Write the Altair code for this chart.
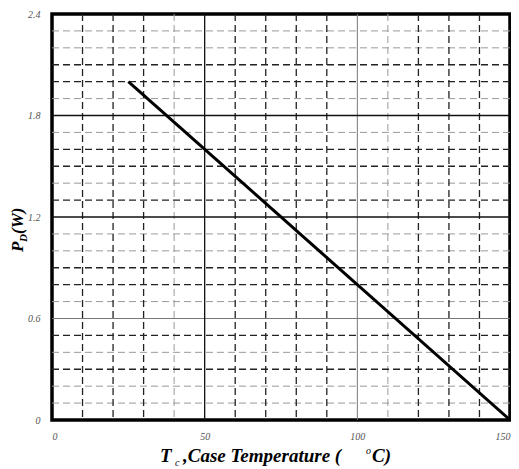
import altair as alt
import pandas as pd

# ---- data ----
temp = [25, 150]
power = [2.0, 0.0]
x_ticks = [0, 50, 100, 150]
y_ticks = [0, 0.6, 1.2, 1.8, 2.4]
x_grid_dark = [10, 20, 30, 60, 70, 80, 90, 120, 130, 140]
x_grid_light = [40, 110]
x_major_dark = [50]
x_major_light = [100]
y_grid_dark = [2.1, 2.0, 1.6, 1.5, 1.3, 0.9, 0.8, 0.5, 0.3]
y_grid_light = [2.3, 2.2, 1.9, 1.7, 1.4, 1.1, 1.0, 0.7, 0.4, 0.2, 0.1]
y_major_dark = [1.8, 1.2]
y_major_light = [0.6]

SERIF = "Liberation Serif"
W, H = 458, 406

xs = alt.Scale(domain=[0, 150], nice=False, zero=False)
ys = alt.Scale(domain=[0, 2.4], nice=False, zero=False)

axis_common = dict(
    grid=False, ticks=False, domain=False, title=None,
    labelFont=SERIF, labelFontStyle="italic", labelFontSize=10,
    labelColor="#555555",
)
x_axis = alt.Axis(values=x_ticks, labelPadding=11, format="d", **axis_common)
y_axis = alt.Axis(values=y_ticks, labelPadding=12, format="~r", **axis_common)

line_df = pd.DataFrame({"T": temp, "P": power})


def vrules(vals, color, width, dash=None):
    kw = dict(color=color, strokeWidth=width)
    if dash:
        kw["strokeDash"] = dash
    return alt.Chart(pd.DataFrame({"v": vals})).mark_rule(**kw).encode(
        x=alt.X("v:Q", scale=xs, axis=x_axis)
    )


def hrules(vals, color, width, dash=None):
    kw = dict(color=color, strokeWidth=width)
    if dash:
        kw["strokeDash"] = dash
    return alt.Chart(pd.DataFrame({"v": vals})).mark_rule(**kw).encode(
        y=alt.Y("v:Q", scale=ys, axis=y_axis)
    )


DASH = [7, 4]
grid = [
    vrules(x_grid_light, "#9a9a9a", 1, DASH),
    hrules(y_grid_light, "#9a9a9a", 1, DASH),
    vrules(x_grid_dark, "#222222", 1.3, DASH),
    hrules(y_grid_dark, "#222222", 1.3, DASH),
    vrules(x_major_light, "#777777", 1),
    hrules(y_major_light, "#777777", 1.2),
    vrules(x_major_dark, "#111111", 1.3),
    hrules(y_major_dark, "#111111", 1.3),
]

curve = alt.Chart(line_df).mark_line(color="black", strokeWidth=3).encode(
    x=alt.X("T:Q", scale=xs, axis=x_axis),
    y=alt.Y("P:Q", scale=ys, axis=y_axis),
)

one = pd.DataFrame({"a": [0]})


def txt(s, x, y, size, style="italic", weight="bold", angle=0, align="left"):
    kw = dict(font=SERIF, fontSize=size, fontStyle=style, fontWeight=weight,
              align=align, baseline="alphabetic", color="black")
    if angle:
        kw["angle"] = angle
    return alt.Chart(one).mark_text(text=s, **kw).encode(
        x=alt.value(x), y=alt.value(y)
    )


# x title: "T_c ,Case Temperature ( °C)"  (plot origin at page 52,14)
titles = [
    txt("T", 108, 448, 19),
    txt("c", 123, 452, 10, weight="normal"),
    txt(",Case Temperature (", 131, 448, 19),
    txt("o", 314, 440, 10, weight="normal"),
    txt("C)", 320, 448, 19),
    # y title rotated: "P_D(W)"
    txt("P", -29, 238, 17, angle=270),
    txt("D", -25, 228, 11, angle=270),
    txt("(W)", -29, 220, 17, angle=270),
]

chart = alt.layer(*grid, curve, *titles).properties(
    width=W, height=H,
    autosize=alt.AutoSizeParams(type="none"),
    padding={"left": 44, "top": 6, "right": 1, "bottom": 47},
).configure_view(stroke="black", strokeWidth=3.5)

chart.save("out.html", embed_options={"renderer": "svg", "actions": False})
